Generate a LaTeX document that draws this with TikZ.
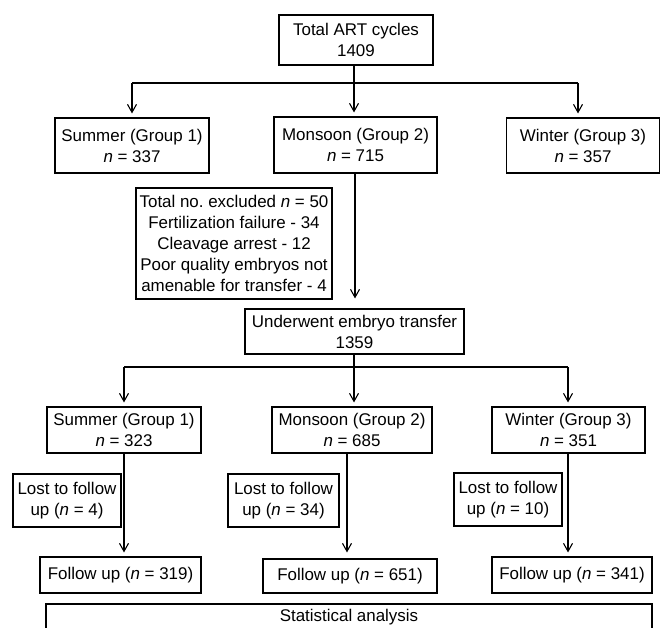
\documentclass[tikz,border=0pt]{standalone}
\usepackage{fontspec}
\setmainfont{Liberation Sans}
\usetikzlibrary{arrows.meta,calc}
\frenchspacing
\begin{document}
\begin{tikzpicture}[x=1bp,y=-1bp,
  box/.style={draw, line width=1.1bp, align=center, inner sep=0pt,
    font=\fontsize{17}{21}\selectfont},
  arr/.style={line width=1.1bp, -{Straight Barb[length=8bp,width=9bp]}, shorten >=4bp},
  ln/.style={line width=1.1bp}]
\useasboundingbox (0,0) rectangle (661,628);
% level 0
\node[box, minimum width=154bp, minimum height=50bp] (top) at (356,40) {Total ART cycles\\1409};
% level 1
\node[box, minimum width=154bp, minimum height=55bp] (s1) at (132,145.5) {Summer (Group 1)\\\textit{n} = 337};
\node[box, minimum width=163bp, minimum height=56bp] (m1) at (355.5,145) {Monsoon (Group 2)\\\textit{n} = 715};
\node[box, minimum width=153bp, minimum height=55bp] (w1) at (583,145.5) {Winter (Group 3)\\\textit{n} = 357};
% excluded
\node[box, minimum width=196bp, minimum height=111bp, font=\fontsize{17}{21.3}\selectfont] (ex) at (234,243.5)
  {Total no.\ excluded \textit{n} = 50\\Fertilization failure - 34\\Cleavage arrest - 12\\Poor quality embryos not\\amenable for transfer - 4};
% underwent
\node[box, minimum width=219bp, minimum height=45bp] (un) at (354.5,331.5) {Underwent embryo transfer\\1359};
% level 2
\node[box, minimum width=154bp, minimum height=46bp] (s2) at (124,430) {Summer (Group 1)\\\textit{n} = 323};
\node[box, minimum width=160bp, minimum height=46bp] (m2) at (352,430) {Monsoon (Group 2)\\\textit{n} = 685};
\node[box, minimum width=153bp, minimum height=46bp] (w2) at (568.5,430) {Winter (Group 3)\\\textit{n} = 351};
% lost
\node[box, minimum width=108bp, minimum height=53bp] (l1) at (67,500.5) {Lost to follow\\up (\textit{n} = 4)};
\node[box, minimum width=111bp, minimum height=53bp] (l2) at (283.5,500.5) {Lost to follow\\up (\textit{n} = 34)};
\node[box, minimum width=108bp, minimum height=53bp] (l3) at (508,499.5) {Lost to follow\\up (\textit{n} = 10)};
% follow up
\node[box, minimum width=161bp, minimum height=36bp] (f1) at (120.5,575) {Follow up (\textit{n} = 319)};
\node[box, minimum width=174bp, minimum height=34bp] (f2) at (350,576) {Follow up (\textit{n} = 651)};
\node[box, minimum width=160bp, minimum height=36bp] (f3) at (572,575) {Follow up (\textit{n} = 341)};
% statistical analysis
\node[box, minimum width=606bp, minimum height=26bp] (st) at (349,617) {Statistical analysis};
% connectors level 0 -> 1
\coordinate (b1) at (354,83);
\coordinate (bl) at (132,83);
\coordinate (br) at (578,83);
\draw[ln] (top.south -| b1) -- (b1);
\draw[ln] (bl) -- (br);
\draw[arr] (bl) -- (s1.north);
\draw[arr] (b1) -- (m1.north -| b1);
\draw[arr] (br) -- (w1.north -| br);
% monsoon -> underwent
\coordinate (mx) at (355,0);
\draw[arr, shorten >=10bp] (m1.south -| mx) -- (un.north -| mx);
% underwent -> level 2
\coordinate (c1) at (354,367);
\coordinate (cl) at (124,367);
\coordinate (cr) at (568,367);
\draw[ln] (un.south -| c1) -- (c1);
\draw[ln] (cl) -- (cr);
\draw[arr] (cl) -- (s2.north);
\draw[arr] (c1) -- (m2.north -| c1);
\draw[arr] (cr) -- (w2.north -| cr);
% level 2 -> follow up
\coordinate (m2x) at (347,0);
\draw[arr] (s2.south) -- (f1.north -| s2.south);
\draw[arr, shorten >=6bp] (m2.south -| m2x) -- (f2.north -| m2x);
\draw[arr] (w2.south -| cr) -- (f3.north -| cr);
\end{tikzpicture}
\end{document}
